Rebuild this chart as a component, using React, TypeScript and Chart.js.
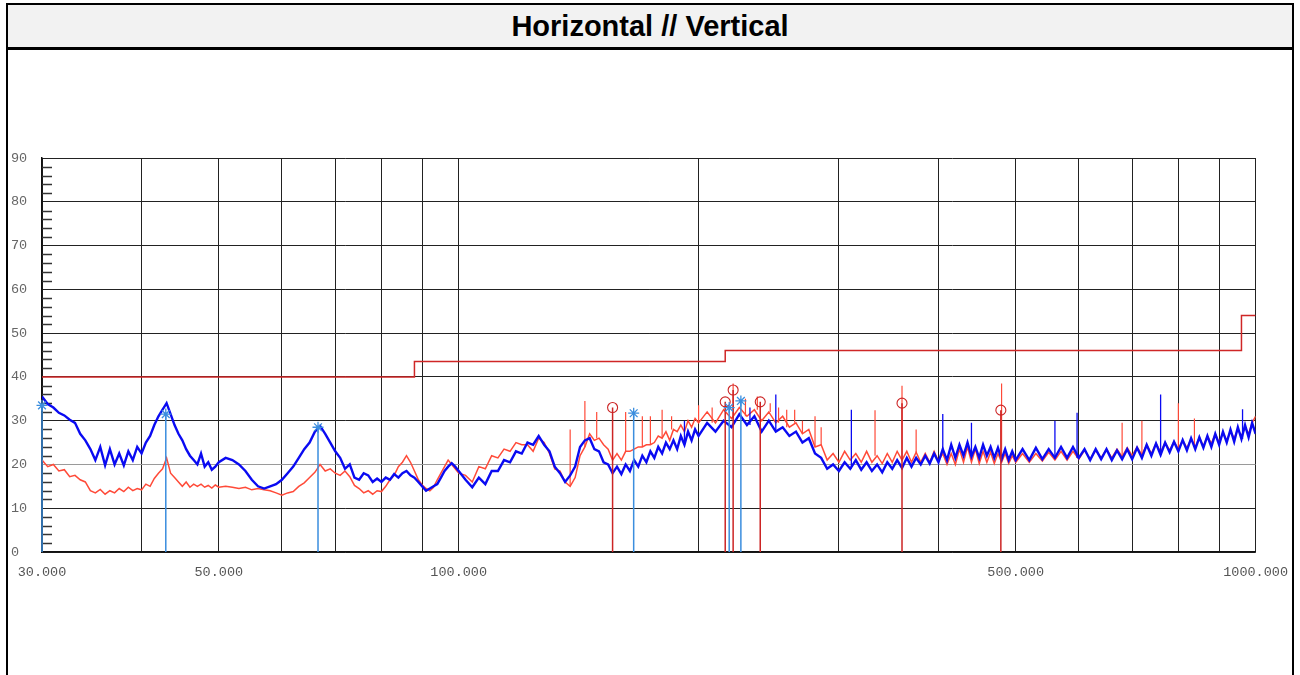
import React, { useEffect, useRef } from "react";
import { Chart, registerables } from "chart.js";

Chart.register(...registerables);

// ---------- data ----------
const TITLE = "Horizontal // Vertical";

const FREQ_A = [30, 30.5, 31, 31.5, 32, 32.5, 33, 33.5, 34, 34.5, 35, 35.5, 36, 36.5, 37, 37.5, 38, 38.5, 39, 39.5, 40, 40.5, 41, 41.5, 42, 42.5, 43, 43.5, 44, 44.5, 45, 45.5, 46, 46.5, 47, 47.5, 48, 48.5, 49, 49.5, 50];
const FREQ_B = [51, 52, 53, 54, 55, 56, 57, 58, 59, 60, 61, 62, 63, 64, 65, 66, 67, 68, 69, 70, 71, 72, 73, 74, 75, 76, 77, 78, 79, 80, 81, 82, 83, 84, 85, 86, 87, 88, 89, 90, 91, 92, 93, 94, 95, 96, 97, 98, 99, 100];
const FREQ_C = [102, 104, 106, 108, 110, 112, 114, 116, 118, 120, 122, 124, 126, 128, 130, 132, 134, 136, 138, 140, 142, 144, 146, 148, 150, 152, 154, 156, 158, 160, 162, 164, 166, 168, 170, 172, 174, 176, 178, 180, 182, 184, 186, 188, 190, 192, 194, 196, 198, 200];
const FREQ_D = [205, 210, 215, 220, 225, 230, 235, 240, 245, 250, 255, 260, 265, 270, 275, 280, 285, 290, 295, 300, 305, 310, 315, 320, 325, 330, 335, 340, 345, 350, 355, 360, 365, 370, 375, 380, 385, 390, 395, 400, 405, 410, 415, 420, 425, 430, 435, 440, 445, 450, 455, 460, 465, 470, 475, 480, 485, 490, 495, 500];
const FREQ_E = [510, 520, 530, 540, 550, 560, 570, 580, 590, 600, 610, 620, 630, 640, 650, 660, 670, 680, 690, 700, 710, 720, 730, 740, 750, 760, 770, 780, 790, 800, 810, 820, 830, 840, 850, 860, 870, 880, 890, 900, 910, 920, 930, 940, 950, 960, 970, 980, 990, 1000];

// Vertical polarization (blue)
const BLUE_A = [35.5, 33.8, 33, 31.8, 31.2, 30.2, 29.5, 27, 25.5, 23.5, 21, 24, 19.8, 23.5, 20, 22.5, 19.8, 23, 21, 24, 22.5, 25, 26.5, 29, 31, 32.5, 34, 31.5, 29, 27, 25.5, 23.5, 22, 21, 20, 22.5, 19.5, 20.5, 18.8, 19.5, 20.5];
const BLUE_B = [21.5, 21, 20, 18.5, 16.5, 15, 14.5, 15, 15.5, 16.5, 18, 19.5, 21.5, 23.5, 25, 27.5, 28.8, 27, 25, 23, 21.5, 19, 20, 17, 16.5, 18, 17.5, 16, 16.8, 16, 17, 16.5, 17.8, 17, 18, 18.5, 17.5, 17, 16, 15, 14, 14.5, 15, 15.5, 17, 18.5, 19.5, 20.3, 19.5, 18.5];
const BLUE_C = [16.5, 14.8, 17, 15.5, 18.5, 18.5, 21, 20.5, 23, 22.5, 25, 24.5, 26.5, 24.5, 23, 19.5, 18, 16, 17.5, 19.5, 24, 25.5, 26, 23.5, 23, 20.5, 20, 18, 19.5, 17.8, 20, 18.5, 21, 19.5, 22, 20.5, 23, 21.5, 24, 22.5, 25, 23.5, 25.5, 23.5, 26.5, 24.5, 27.5, 25.5, 28, 26.5];
const BLUE_D = [29.5, 27.5, 30, 28.5, 31.5, 29, 31, 27.5, 30, 27.5, 28.5, 26.5, 27.5, 25, 26, 22.5, 21.5, 19, 20, 18.5, 20.5, 19, 21, 18.8, 20.5, 18.5, 20, 18.2, 20.5, 19, 21, 19.2, 21.5, 19.5, 21.5, 20, 22, 20.2, 22.5, 20.5, 23.5, 21, 24.5, 21.5, 24.5, 22, 25, 21.8, 24, 21.5, 24.5, 22, 24, 21.5, 23.8, 21.2, 23.5, 21, 23, 21];
const BLUE_E = [23.5, 21, 23.8, 21.2, 23.5, 21.5, 24, 21.5, 24, 21.5, 23.5, 21, 23.5, 21.2, 23.5, 21, 23.2, 21.2, 23.5, 21.2, 23.8, 21.5, 24.5, 22, 24.8, 22.2, 25, 22.8, 25.2, 23, 25.6, 23.2, 26, 23.5, 26.2, 23.8, 26.5, 24, 27, 24.5, 27.5, 25, 28, 25.2, 28.5, 25.8, 29, 26.2, 29.5, 27];

// Horizontal polarization (red)
const RED_A = [21, 19.5, 20, 18.5, 18.8, 17.2, 17.5, 16.5, 16, 14, 13.5, 14.3, 13.2, 14, 13.5, 14.5, 13.8, 14.8, 14, 14.5, 14.2, 15.5, 15, 16.8, 18, 19, 21.5, 18, 17, 16, 15, 16, 14.8, 15.5, 15, 15.5, 14.8, 15.2, 14.6, 15.3, 14.8];
const RED_B = [15, 14.8, 14.5, 14.8, 14.2, 14.5, 14.2, 14, 13.5, 13, 13.5, 13.8, 15, 15.8, 17, 18.2, 20, 18.5, 19, 18, 17.5, 18.5, 17.2, 15.2, 14.5, 13.5, 14, 13.2, 14, 13.8, 15, 16.5, 17.5, 19.5, 20.5, 22, 20.5, 18.5, 16.5, 15.3, 14.5, 14, 14.8, 16.5, 18, 19.5, 21, 20, 19, 18];
const RED_C = [17.5, 16, 19.5, 19, 22, 21.5, 23.5, 23, 25, 24.5, 24.5, 23, 26, 25, 22.5, 19, 18.5, 16, 15, 17, 22, 24, 27, 25.5, 26, 24.5, 23.5, 21, 22.5, 21, 23, 23, 23.5, 24, 24, 24.5, 24.5, 25, 26.5, 26, 27.5, 25.5, 28, 27.5, 29, 27.5, 30, 28.5, 30.5, 29.5];
const RED_D = [32, 29.5, 32.5, 30.5, 33, 31, 32.5, 30, 32, 29.5, 31, 28.5, 29.5, 27, 28, 24, 24.5, 21, 22.5, 20.5, 23, 21, 22.5, 20.5, 23, 20.5, 22, 20.2, 22.5, 20.5, 23, 21, 23, 20.5, 22.8, 20.5, 22.5, 20.5, 23, 20.8, 22.5, 20, 22.5, 20, 23.5, 20.5, 24, 20.5, 23.5, 20.2, 23, 20.5, 22.8, 20.2, 22.5, 20.5, 22.5, 20.2, 22, 20.5];
const RED_E = [22.5, 20.5, 22.5, 20.8, 22.8, 21, 23, 21, 23, 21.2, 23.2, 21.2, 23.2, 21.5, 23.5, 21.5, 23.5, 21.8, 23.8, 22, 24, 22.2, 24.5, 22.5, 24.8, 22.8, 25, 23.2, 25.2, 23.5, 25.5, 23.8, 25.8, 24, 26.2, 24.2, 26.5, 24.8, 27, 25, 27.2, 25.5, 27.5, 26, 28, 26.5, 28.5, 27, 29.5, 31];

// narrowband spikes (frequency MHz, peak dBuV/m)
const RED_SPIKE_F = [138, 144, 149, 162, 170, 174, 180, 185, 200, 208, 221, 229, 237, 246, 252, 258, 264, 270, 280, 285, 333, 360, 375, 480, 680, 720, 800, 838];
const RED_SPIKE_V = [28, 34.5, 32, 32, 31, 31, 32.5, 31, 33.5, 33, 38.5, 35, 35.5, 34, 33, 32.5, 32.5, 30, 31, 28.5, 32.4, 38, 28, 38.5, 29.5, 30, 34, 30.5];
const BLUE_SPIKE_F = [192, 232, 250, 311, 405, 440, 560, 597, 760, 963];
const BLUE_SPIKE_V = [30, 33, 36, 32.5, 31.5, 29.5, 30, 31.8, 36, 32.6];

// markers
const RED_MARK_F = [156, 216, 221, 239, 360, 479];
const RED_MARK_V = [33, 34.3, 37, 34.3, 34, 32.4];
const BLUE_MARK_F = [30, 42.9, 66.6, 165.8, 218.5, 226];
const BLUE_MARK_V = [33.5, 31.5, 28.5, 31.7, 33, 34.5];

// limit line (FCC class B)
const LIMIT_F = [30, 88, 88, 216, 216, 960, 960, 1000];
const LIMIT_V = [40, 40, 43.5, 43.5, 46, 46, 54, 54];

// axes
const X_GRID = [30, 40, 50, 60, 70, 80, 90, 100, 200, 300, 400, 500, 600, 700, 800, 900, 1000];
const X_LABEL_F = [30, 50, 100, 500, 1000];
const X_LABELS = ["30.000", "50.000", "100.000", "500.000", "1000.000"];
const Y_MIN = 0;
const Y_MAX = 90;
const Y_LABEL_STEP = 10;
const Y_MINOR_STEP = 2;

// ---------- helpers ----------
const FREQ = [...FREQ_A, ...FREQ_B, ...FREQ_C, ...FREQ_D, ...FREQ_E];
const BLUE = [...BLUE_A, ...BLUE_B, ...BLUE_C, ...BLUE_D, ...BLUE_E];
const RED = [...RED_A, ...RED_B, ...RED_C, ...RED_D, ...RED_E];

const toPts = (fs: number[], vs: number[]) => fs.map((f, i) => ({ x: f, y: vs[i] }));
const nearest = (fs: number[], vs: number[], f: number) => {
  let best = 0;
  let bd = Infinity;
  for (let i = 0; i < fs.length; i++) {
    const d = Math.abs(Math.log(fs[i]) - Math.log(f));
    if (d < bd) { bd = d; best = i; }
  }
  return vs[best];
};
const spikes = (sf: number[], sv: number[], fs: number[], vs: number[]) =>
  sf.flatMap((f, i) => [
    { x: f, y: nearest(fs, vs, f) },
    { x: f, y: sv[i] },
    { x: f, y: null as any },
  ]);
const stems = (mf: number[], mv: number[]) =>
  mf.flatMap((f, i) => [
    { x: f, y: 0 },
    { x: f, y: mv[i] },
    { x: f, y: null as any },
  ]);

const minorTicks = {
  id: "minorTicks",
  beforeDatasetsDraw(chart: any) {
    const { ctx, chartArea, scales } = chart;
    const y = scales.y;
    ctx.save();
    ctx.strokeStyle = "#333";
    ctx.lineWidth = 1.5;
    for (let v = Y_MIN; v <= Y_MAX; v += Y_MINOR_STEP) {
      if (v % Y_LABEL_STEP === 0) continue;
      const py = Math.round(y.getPixelForValue(v)) + 0.5;
      ctx.beginPath();
      ctx.moveTo(chartArea.left, py);
      ctx.lineTo(chartArea.left + 10, py);
      ctx.stroke();
    }
    ctx.restore();
  },
};

const BLUE_C1 = "#0a0af2";
const RED_C1 = "#ff4a38";
const MARK_BLUE = "#3b8ede";
const MARK_RED = "#cc2424";
const TICK_FONT = { family: "'Liberation Mono', 'DejaVu Sans Mono', monospace", size: 13.5 };

export default function App() {
  const ref = useRef<HTMLCanvasElement | null>(null);

  useEffect(() => {
    if (!ref.current) return;
    const line = (extra: any) => ({
      type: "line",
      pointRadius: 0,
      fill: false,
      tension: 0,
      spanGaps: false,
      ...extra,
    });
    const chart = new Chart(ref.current, {
      type: "line",
      data: {
        datasets: [
          line({
            data: toPts(BLUE_MARK_F, BLUE_MARK_V),
            showLine: false,
            pointRadius: 5.5,
            pointStyle: "star",
            pointBorderColor: MARK_BLUE,
            pointBorderWidth: 1.3,
            borderColor: MARK_BLUE,
            clip: false,
          }),
          line({
            data: toPts(RED_MARK_F, RED_MARK_V),
            showLine: false,
            pointRadius: 5,
            pointStyle: "circle",
            pointBackgroundColor: "rgba(0,0,0,0)",
            pointBorderColor: MARK_RED,
            pointBorderWidth: 1.1,
            borderColor: MARK_RED,
            clip: false,
          }),
          line({ data: stems(BLUE_MARK_F, BLUE_MARK_V), borderColor: MARK_BLUE, borderWidth: 1.5, clip: false }),
          line({ data: stems(RED_MARK_F, RED_MARK_V), borderColor: MARK_RED, borderWidth: 1.5 }),
          line({ data: toPts(LIMIT_F, LIMIT_V), borderColor: "#cf2626", borderWidth: 1.5 }),
          line({ data: spikes(BLUE_SPIKE_F, BLUE_SPIKE_V, FREQ, BLUE), borderColor: BLUE_C1, borderWidth: 1.3 }),
          line({ data: toPts(FREQ, BLUE), borderColor: BLUE_C1, borderWidth: 2.4 }),
          line({ data: spikes(RED_SPIKE_F, RED_SPIKE_V, FREQ, RED), borderColor: RED_C1, borderWidth: 1.2 }),
          line({ data: toPts(FREQ, RED), borderColor: RED_C1, borderWidth: 1.5 }),
        ] as any,
      },
      options: {
        animation: false,
        responsive: false,
        events: [],
        layout: { padding: { left: 11, top: 158, right: 44, bottom: 0 } },
        plugins: { legend: { display: false }, tooltip: { enabled: false } },
        scales: {
          x: {
            type: "logarithmic",
            min: 30,
            max: 1000,
            afterBuildTicks: (s: any) => {
              s.ticks = X_GRID.map((v) => ({ value: v }));
            },
            afterFit: (s: any) => {
              s.height = 123;
            },
            ticks: {
              autoSkip: false,
              maxRotation: 0,
              minRotation: 0,
              padding: 12,
              color: "#555",
              font: TICK_FONT,
              callback: (v: any) => {
                const i = X_LABEL_F.indexOf(Number(v));
                return i >= 0 ? X_LABELS[i] : "";
              },
            },
            grid: { color: "#222", lineWidth: 1, drawTicks: false },
            border: { color: "#111", width: 1.5 },
          },
          y: {
            min: Y_MIN,
            max: Y_MAX,
            afterFit: (s: any) => {
              s.width = 31;
            },
            ticks: {
              stepSize: Y_LABEL_STEP,
              crossAlign: "far",
              padding: 0,
              color: "#666",
              font: TICK_FONT,
            },
            grid: {
              color: (c: any) => (c.tick && c.tick.value === 20 ? "#9a9a9a" : "#222"),
              lineWidth: 1,
              drawTicks: false,
            },
            border: { color: "#111", width: 1.5 },
          },
        },
      } as any,
      plugins: [minorTicks],
    });
    return () => chart.destroy();
  }, []);

  return (
    <div>
      <div
        style={{
          position: "fixed",
          left: 6,
          top: 3,
          width: 1288,
          height: 720,
          border: "2px solid #000",
          boxSizing: "border-box",
          background: "#fff",
        }}
      >
        <div
          style={{
            height: 42,
            background: "#f2f2f2",
            borderBottom: "3px solid #000",
            display: "flex",
            alignItems: "center",
            justifyContent: "center",
            fontFamily: "'Liberation Sans', Arial, sans-serif",
            fontWeight: "bold",
            fontSize: 29,
            color: "#000",
          }}
        >
          {TITLE}
        </div>
      </div>
      <canvas
        ref={ref}
        width={1300}
        height={675}
        style={{ position: "fixed", left: 0, top: 0, width: 1300, height: 675 }}
      />
    </div>
  );
}
